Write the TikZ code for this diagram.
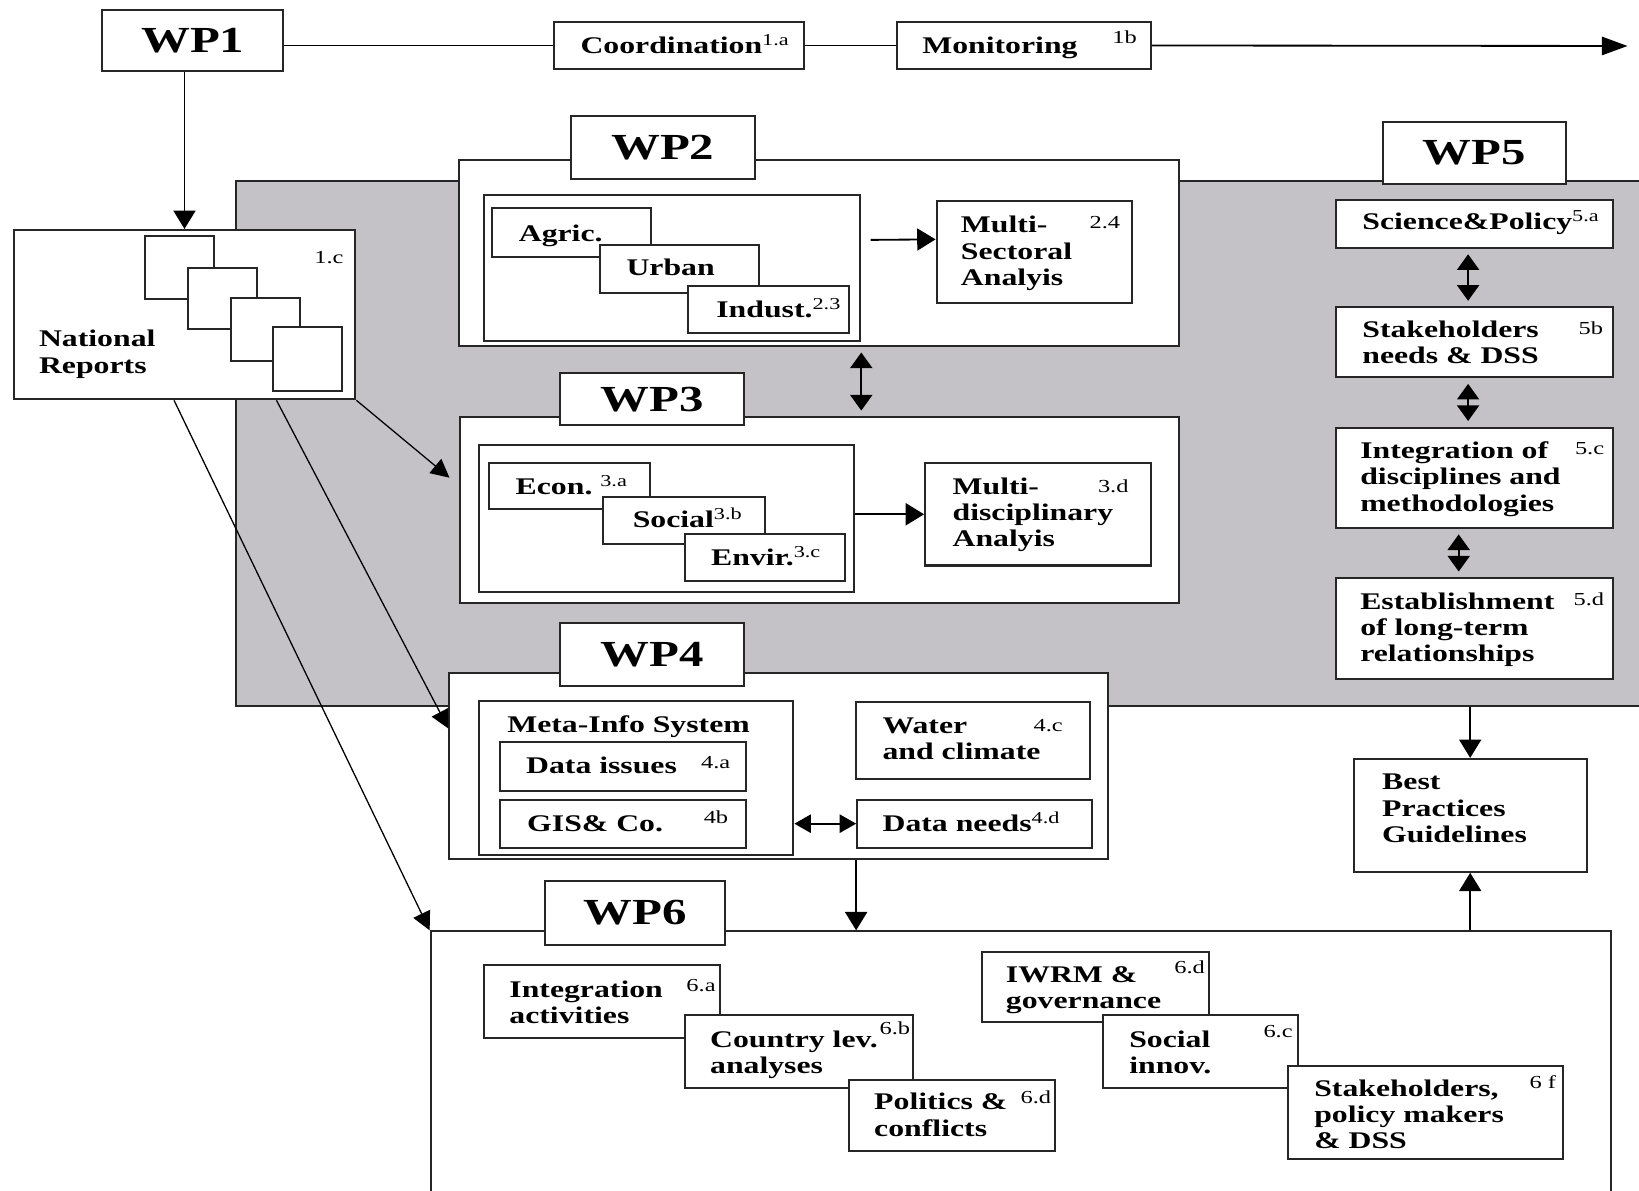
\documentclass[tikz,border=0pt]{standalone}
\usepackage{fontspec}
\setmainfont{Liberation Serif}[FakeStretch=1.33]
\usetikzlibrary{arrows.meta,fit}
\definecolor{wpgray}{RGB}{196,194,199}
\newcommand{\wpidx}[1]{\textsuperscript{\mdseries #1}}

\begin{document}
\begin{tikzpicture}[x=0.02cm, y=-0.02cm,
  box/.style={draw=black!85, line width=1.1pt, fill=white, inner sep=0pt},
  wplab/.style={box},
  wptxt/.style={font=\fontsize{20}{22}\selectfont\bfseries, inner sep=0pt},
  greyarea/.style={draw=black!85, line width=1.1pt, fill=wpgray, inner sep=0pt},
  txt/.style={font=\fontsize{13}{14.3}\selectfont\bfseries, align=left, inner sep=0pt, anchor=base west},
  num/.style={font=\fontsize{10}{10}\selectfont, inner sep=0pt, anchor=north east},
  link/.style={draw=black, line width=1pt},
  arr/.style={draw=black, line width=1pt, -{Triangle[length=10pt,width=12pt]}},
  darr/.style={draw=black, line width=1pt, {Triangle[length=8.5pt,width=12pt]}-{Triangle[length=8.5pt,width=12pt]}, shorten <=3pt, shorten >=3pt},
  darrs/.style={draw=black, line width=1pt, {Triangle[length=9pt,width=10pt]}-{Triangle[length=9pt,width=10pt]}},
  diag/.style={draw=black, line width=0.7pt, -{Triangle[length=10pt,width=10pt]}}
]
\useasboundingbox (0,0) rectangle (1568,1139);

\node[greyarea, fit={(226,173) (1600,675)}] (grey) {};

\node[wplab, fit={(98,10) (271,68)}] (wp1) {};
\node[wptxt] (wp1-t) at (wp1) {WP1};
\node[box, fit={(530,21) (769,66)}] (coord) {};
\node[txt] (coord-t) at (555,51) {Coordination\wpidx{1.a}};
\node[box, fit={(858,21) (1101,66)}] (mon) {};
\node[txt] (mon-t) at (882,51) {Monitoring};
\node[num] (mon-n) at (1088,29) {1b};
\coordinate (tl-end) at (1557,44);
\draw[link] (wp1.east |- coord.west) -- (coord.west);
\draw[link] (coord.east) -- (mon.west);
\draw[draw=black, line width=1pt, -{Triangle[length=14pt,width=10pt]}] (mon.east) -- (tl-end);

\node[box, fit={(13,220) (340,382)}] (nr) {};
\node[box, fit={(139,226) (205,286)}] (pg1) {};
\node[box, fit={(180,256) (246,315)}] (pg2) {};
\node[box, fit={(221,285) (287,345)}] (pg3) {};
\node[box, fit={(261,313) (327,374)}] (pg4) {};
\node[txt] (nr-t) at (37,357) {National\\Reports};
\node[num] (nr-n) at (329,240) {1.c};
\draw[arr] (wp1.south -| nr.north) -- (nr.north);

\node[box, fit={(439,153) (1128,331)}] (wp2b) {};
\node[wplab, fit={(546,111) (722,171)}] (wp2) {};
\node[wptxt] (wp2-t) at (wp2) {WP2};
\node[box, fit={(463,187) (823,326)}] (sect) {};
\node[box, fit={(471,199) (623,246)}] (agric) {};
\node[txt] (agric-t) at (496,231) {Agric.};
\node[box, fit={(574,234) (726,280)}] (urban) {};
\node[txt] (urban-t) at (599,264) {Urban};
\node[box, fit={(658,274) (812,319)}] (indust) {};
\node[txt] (indust-t) at (685,304) {Indust.\wpidx{2.3}};
\node[box, fit={(896,192) (1083,290)}] (msa) {};
\node[txt] (msa-t) at (919,273) {Multi-\\Sectoral\\Analyis};
\node[num] (msa-n) at (1072,207) {2.4};
\draw[arr] ([shift={(9,-27)}]sect.east) -- ([shift={(0,-12)}]msa.west);

\node[box, fit={(440,399) (1128,577)}] (wp3b) {};
\node[wplab, fit={(536,357) (712,407)}] (wp3) {};
\node[wptxt] (wp3-t) at (wp3) {WP3};
\node[box, fit={(458,426) (817,566)}] (disc) {};
\node[box, fit={(468,443) (622,487)}] (econ) {};
\node[txt] (econ-t) at (493,473) {Econ.~\wpidx{3.a}};
\node[box, fit={(577,475) (732,520)}] (social) {};
\node[txt] (social-t) at (605,505) {Social\wpidx{3.b}};
\node[box, fit={(655,511) (808,556)}] (envir) {};
\node[txt] (envir-t) at (680,541) {Envir.\wpidx{3.c}};
\node[box, fit={(885,443) (1101,541)}] (mda) {};
\node[txt] (mda-t) at (911,523) {Multi-\\disciplinary\\Analyis};
\node[num] (mda-n) at (1080,459) {3.d};
\draw[arr] (disc.east |- mda.west) -- (mda.west);
\draw[darr] (sect.east |- wp2b.south) -- (sect.east |- wp3b.north);

\node[box, fit={(430,644) (1060,822)}] (wp4b) {};
\node[wplab, fit={(536,596) (712,656)}] (wp4) {};
\node[wptxt] (wp4-t) at (wp4) {WP4};
\node[box, fit={(458,671) (759,818)}] (meta) {};
\node[txt] (meta-t) at (485,701) {Meta-Info System};
\node[box, fit={(478,710) (714,757)}] (dissue) {};
\node[txt] (dissue-t) at (503,740) {Data issues};
\node[num] (dissue-n) at (699,723) {4.a};
\node[box, fit={(478,765) (714,811)}] (gis) {};
\node[txt] (gis-t) at (504,795) {GIS\& Co.};
\node[num] (gis-n) at (697,775) {4b};
\node[box, fit={(819,672) (1043,745)}] (water) {};
\node[txt] (water-t) at (844,727) {Water\\and climate};
\node[num] (water-n) at (1017,688) {4.c};
\node[box, fit={(820,765) (1045,811)}] (dneed) {};
\node[txt] (dneed-t) at (844,795) {Data needs\wpidx{4.d}};
\draw[darrs] (meta.east |- dneed.west) -- (dneed.west);

\node[wplab, fit={(1323,117) (1498,176)}] (wp5) {};
\node[wptxt] (wp5-t) at (wp5) {WP5};
\node[box, fit={(1278,191) (1543,237)}] (scipol) {};
\node[txt] (scipol-t) at (1303,220) {Science\&Policy\wpidx{5.a}};
\node[box, fit={(1278,294) (1543,361)}] (sneeds) {};
\node[txt] (sneeds-t) at (1303,348) {Stakeholders\\needs \& DSS};
\node[num] (sneeds-n) at (1534,307) {5b};
\node[box, fit={(1278,409) (1543,505)}] (integd) {};
\node[txt] (integd-t) at (1301,489) {Integration of\\disciplines and\\methodologies};
\node[num] (integd-n) at (1535,423) {5.c};
\node[box, fit={(1278,553) (1543,650)}] (estab) {};
\node[txt] (estab-t) at (1301,633) {Establishment\\of long-term\\relationships};
\node[num] (estab-n) at (1535,567) {5.d};
\draw[darr] ([shift={(-6,0)}]scipol.south) -- ([shift={(-6,0)}]sneeds.north);
\draw[darr] ([shift={(-6,0)}]sneeds.south) -- ([shift={(-6,0)}]integd.north);
\draw[darr] ([shift={(-15,0)}]integd.south) -- ([shift={(-15,0)}]estab.north);

\node[box, fit={(1295,726) (1518,834)}] (best) {};
\node[txt] (best-t) at (1322,806) {Best\\Practices\\Guidelines};
\draw[arr] (best.north |- grey.south) -- (best.north);

\node[box, fit={(412,891) (1541,1200)}] (wp6b) {};
\node[wplab, fit={(521,843) (694,904)}] (wp6) {};
\node[wptxt] (wp6-t) at (wp6) {WP6};
\node[box, fit={(463,923) (689,993)}] (integ) {};
\node[txt] (integ-t) at (487,979) {Integration\\activities};
\node[num] (integ-n) at (685,937) {6.a};
\node[box, fit={(655,971) (873,1041)}] (cntry) {};
\node[txt] (cntry-t) at (679,1027) {Country lev.\\analyses};
\node[num] (cntry-n) at (871,977) {6.b};
\node[box, fit={(812,1033) (1009,1101)}] (polit) {};
\node[txt] (polit-t) at (836,1087) {Politics \&\\conflicts};
\node[num] (polit-n) at (1006,1043) {6.d};
\node[box, fit={(939,911) (1157,978)}] (iwrm) {};
\node[txt] (iwrm-t) at (962,965) {IWRM \&\\governance};
\node[num] (iwrm-n) at (1153,919) {6.d};
\node[box, fit={(1055,971) (1242,1041)}] (sinnov) {};
\node[txt] (sinnov-t) at (1080,1027) {Social\\innov.};
\node[num] (sinnov-n) at (1237,981) {6.c};
\node[box, fit={(1232,1020) (1495,1109)}] (stake) {};
\node[txt] (stake-t) at (1257,1099) {Stakeholders,\\policy makers\\\& DSS};
\node[num] (stake-n) at (1489,1029) {6 f};

\draw[arr] (dneed.west |- wp4b.south) -- (dneed.west |- wp6b.north);
\draw[arr] (best.south |- wp6b.north) -- (best.south);

\coordinate (to3) at (430,457);
\coordinate (to4) at (429,697);
\draw[diag] (nr.south east) -- (to3);
\draw[diag] ([shift={(88,0)}]nr.south) -- (to4);
\draw[diag] ([shift={(-10,0)}]nr.south) -- (wp6b.north west);
\end{tikzpicture}
\end{document}
